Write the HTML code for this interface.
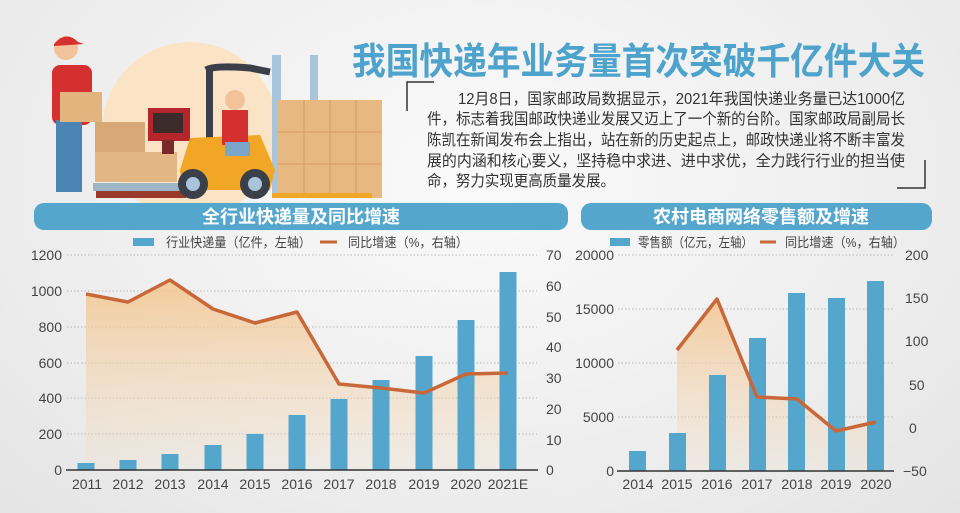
<!DOCTYPE html>
<html><head><meta charset="utf-8"><style>
body{margin:0;width:960px;height:513px;overflow:hidden;background:radial-gradient(ellipse at 50% 35%,#fafafa 0%,#ececec 70%,#e4e4e4 100%);font-family:"Liberation Sans","Noto Sans CJK SC",sans-serif;}
svg{position:absolute;left:0;top:0}
</style></head><body>
<svg width="960" height="513" viewBox="0 0 960 513">
<defs>
<linearGradient id="g1" x1="0" y1="0" x2="0" y2="1"><stop offset="0" stop-color="#f4c48c" stop-opacity=".85"/><stop offset="1" stop-color="#f4d9b8" stop-opacity=".15"/></linearGradient>
</defs>
<!-- illustration -->
<circle cx="190" cy="130" r="88" fill="#fbe3c6"/>
<rect x="93" y="183" width="95" height="8" fill="#9cb6c6"/>
<rect x="96" y="191" width="90" height="7" fill="#9a3a2a"/>
<rect x="95" y="122" width="50" height="30" fill="#d8a877"/><rect x="95" y="152" width="82" height="30" fill="#e2b783"/>
<rect x="148" y="108" width="42" height="33" fill="#b5262b"/><rect x="153" y="113" width="30" height="20" fill="#3d2b2b"/><rect x="162" y="140" width="12" height="14" fill="#7a2a2a"/>
<rect x="52" y="65" width="40" height="60" rx="8" fill="#d62f2f"/><circle cx="66" cy="48" r="12" fill="#f2c39a"/><path d="M54 44 Q66 30 78 42 L84 44 L54 46Z" fill="#d62f2f"/>
<rect x="56" y="120" width="26" height="72" fill="#4b83b5"/><rect x="60" y="92" width="42" height="30" fill="#e3b57e"/>
<rect x="206" y="70" width="7" height="120" fill="#3b3f4a"/><rect x="272" y="55" width="9" height="140" fill="#a8c5dc"/><rect x="310" y="55" width="8" height="140" fill="#a8c5dc"/>
<path d="M206 70 Q215 65 250 68 L270 72" stroke="#3b3f4a" stroke-width="7" fill="none"/>
<path d="M180 170 L190 138 L260 135 L275 170 L270 190 L182 190Z" fill="#f1a625"/>
<circle cx="193" cy="184" r="15" fill="#3a3f4a"/><circle cx="193" cy="184" r="7" fill="#a8c5dc"/><circle cx="255" cy="184" r="15" fill="#3a3f4a"/><circle cx="255" cy="184" r="7" fill="#a8c5dc"/>
<rect x="222" y="110" width="26" height="35" fill="#d62f2f"/><circle cx="235" cy="100" r="10" fill="#f2c39a"/><rect x="225" y="142" width="25" height="14" fill="#7aa4c8"/>
<rect x="278" y="100" width="104" height="98" fill="#e7b882"/>
<g stroke="#d49c62" stroke-width="1"><line x1="304" y1="100" x2="304" y2="198"/><line x1="330" y1="100" x2="330" y2="198"/><line x1="356" y1="100" x2="356" y2="198"/><line x1="278" y1="132" x2="382" y2="132"/><line x1="278" y1="164" x2="382" y2="164"/></g>
<rect x="272" y="193" width="100" height="5" fill="#f1a625"/>
<!-- title -->
<text x="352" y="74" font-size="37" font-weight="bold" fill="#4da3cc" textLength="573" lengthAdjust="spacingAndGlyphs">我国快递年业务量首次突破千亿件大关</text>
<path d="M407 111 V82 H434" stroke="#333" stroke-width="1.5" fill="none"/>
<path d="M897 188 H925 V160" stroke="#333" stroke-width="1.5" fill="none"/>
<g font-size="15.5" fill="#333">
<text x="458" y="104" textLength="447" lengthAdjust="spacingAndGlyphs">12月8日，国家邮政局数据显示，2021年我国快递业务量已达1000亿</text>
<text x="427" y="124" textLength="478" lengthAdjust="spacingAndGlyphs">件，标志着我国邮政快递业发展又迈上了一个新的台阶。国家邮政局副局长</text>
<text x="427" y="145" textLength="478" lengthAdjust="spacingAndGlyphs">陈凯在新闻发布会上指出，站在新的历史起点上，邮政快递业将不断丰富发</text>
<text x="427" y="166" textLength="478" lengthAdjust="spacingAndGlyphs">展的内涵和核心要义，坚持稳中求进、进中求优，全力践行行业的担当使</text>
<text x="427" y="186" textLength="188" lengthAdjust="spacingAndGlyphs">命，努力实现更高质量发展。</text>
</g>
<!-- headers -->
<rect x="34" y="203" width="534" height="27" rx="10" fill="#55a6cd"/>
<text x="301" y="223" font-size="18" font-weight="bold" fill="#fff" text-anchor="middle">全行业快递量及同比增速</text>
<rect x="581" y="203" width="351" height="27" rx="10" fill="#55a6cd"/>
<text x="761" y="223" font-size="18" font-weight="bold" fill="#fff" text-anchor="middle">农村电商网络零售额及增速</text>
<!-- legends -->
<g font-size="13" fill="#444">
<rect x="133" y="238" width="21" height="8" fill="#55a6cd"/><text x="166" y="247" textLength="145" lengthAdjust="spacingAndGlyphs">行业快递量（亿件，左轴）</text>
<line x1="320" y1="242" x2="337" y2="242" stroke="#c8683a" stroke-width="3"/><text x="348" y="247" textLength="120" lengthAdjust="spacingAndGlyphs">同比增速（%，右轴）</text>
<rect x="610" y="238" width="20" height="8" fill="#55a6cd"/><text x="638" y="247" textLength="115" lengthAdjust="spacingAndGlyphs">零售额（亿元，左轴）</text>
<line x1="760" y1="242" x2="776" y2="242" stroke="#c8683a" stroke-width="3"/><text x="785" y="247" textLength="120" lengthAdjust="spacingAndGlyphs">同比增速（%，右轴）</text>
</g>
<!-- grids -->
<g stroke="#bbb" stroke-dasharray="1.5,2" stroke-width="1">
<line x1="67" y1="255" x2="537" y2="255"/><line x1="67" y1="291" x2="537" y2="291"/><line x1="67" y1="327" x2="537" y2="327"/><line x1="67" y1="363" x2="537" y2="363"/><line x1="67" y1="398" x2="537" y2="398"/><line x1="67" y1="434" x2="537" y2="434"/>
<line x1="618" y1="255" x2="893" y2="255"/><line x1="618" y1="309" x2="893" y2="309"/><line x1="618" y1="363" x2="893" y2="363"/><line x1="618" y1="417" x2="893" y2="417"/>
</g>
<!-- left chart -->
<polygon points="86,470 86,294 128,302 170,280 213,309 255,323 297,312 339,384 381,388 424,393 466,374 508,373 508,470" fill="url(#g1)"/>
<g fill="#55a6cd">
<rect x="77.5" y="463" width="17" height="7"/><rect x="119.5" y="460" width="17" height="10"/><rect x="161.5" y="454" width="17" height="16"/><rect x="204.5" y="445" width="17" height="25"/><rect x="246.5" y="434" width="17" height="36"/><rect x="288.5" y="415" width="17" height="55"/><rect x="330.5" y="399" width="17" height="71"/><rect x="372.5" y="380" width="17" height="90"/><rect x="415.5" y="356" width="17" height="114"/><rect x="457.5" y="320" width="17" height="150"/><rect x="499.5" y="272" width="17" height="198"/>
</g>
<polyline points="86,294 128,302 170,280 213,309 255,323 297,312 339,384 381,388 424,393 466,374 508,373" fill="none" stroke="#c8683a" stroke-width="3.5" stroke-linejoin="round"/>
<line x1="66" y1="470" x2="538" y2="470" stroke="#333" stroke-width="1.5"/>
<g font-size="14" fill="#444" text-anchor="end">
<text x="62" y="260">1200</text><text x="62" y="296">1000</text><text x="62" y="332">800</text><text x="62" y="368">600</text><text x="62" y="403">400</text><text x="62" y="439">200</text><text x="62" y="475">0</text>
</g>
<g font-size="14" fill="#444">
<text x="546" y="260">70</text><text x="546" y="291">60</text><text x="546" y="322">50</text><text x="546" y="352">40</text><text x="546" y="383">30</text><text x="546" y="414">20</text><text x="546" y="445">10</text><text x="546" y="475">0</text>
</g>
<g font-size="14" fill="#444" text-anchor="middle">
<text x="87" y="489">2011</text><text x="128" y="489">2012</text><text x="170" y="489">2013</text><text x="213" y="489">2014</text><text x="255" y="489">2015</text><text x="297" y="489">2016</text><text x="339" y="489">2017</text><text x="381" y="489">2018</text><text x="424" y="489">2019</text><text x="466" y="489">2020</text><text x="508" y="489">2021E</text>
</g>
<!-- right chart -->
<polygon points="677,471 677,350 717,299 757,397 797,399 836,431 876,422 876,471" fill="url(#g1)"/>
<g fill="#55a6cd">
<rect x="629" y="451" width="17" height="20"/><rect x="669" y="433" width="17" height="38"/><rect x="709" y="375" width="17" height="96"/><rect x="749" y="338" width="17" height="133"/><rect x="788" y="293" width="17" height="178"/><rect x="828" y="298" width="17" height="173"/><rect x="867" y="281" width="17" height="190"/>
</g>
<polyline points="677,350 717,299 757,397 797,399 836,431 876,422" fill="none" stroke="#c8683a" stroke-width="3.5" stroke-linejoin="round"/>
<line x1="617" y1="471" x2="894" y2="471" stroke="#333" stroke-width="1.5"/>
<g font-size="14" fill="#444" text-anchor="end">
<text x="614" y="260">20000</text><text x="614" y="314">15000</text><text x="614" y="368">10000</text><text x="614" y="422">5000</text><text x="614" y="476">0</text>
</g>
<g font-size="14" fill="#444">
<text x="905" y="260">200</text><text x="905" y="303">150</text><text x="905" y="346">100</text><text x="909" y="390">50</text><text x="909" y="433">0</text><text x="903" y="476">−50</text>
</g>
<g font-size="14" fill="#444" text-anchor="middle">
<text x="638" y="489">2014</text><text x="677" y="489">2015</text><text x="717" y="489">2016</text><text x="757" y="489">2017</text><text x="797" y="489">2018</text><text x="836" y="489">2019</text><text x="876" y="489">2020</text>
</g>
</svg>
</body></html>
